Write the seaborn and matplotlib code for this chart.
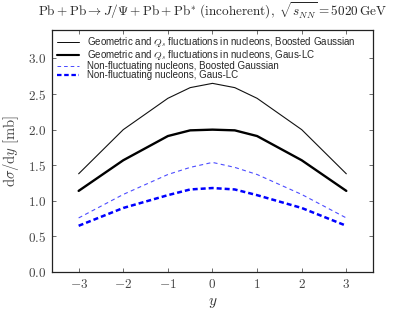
import numpy as np
import pandas as pd
import matplotlib
matplotlib.use('Agg')
import matplotlib.pyplot as plt
import seaborn as sns

# ── Data ──────────────────────────────────────────────────────────────────────
rapidity = [-3, -2, -1, -0.5, 0, 0.5, 1, 2, 3]
fluct_bg = [1.38, 2.00, 2.44, 2.59, 2.65, 2.59, 2.44, 2.00, 1.38]
fluct_lc = [1.14, 1.57, 1.91, 1.99, 2.00, 1.99, 1.91, 1.57, 1.14]
nofl_bg  = [0.76, 1.09, 1.37, 1.47, 1.54, 1.47, 1.37, 1.09, 0.76]
nofl_lc  = [0.65, 0.90, 1.08, 1.16, 1.18, 1.16, 1.08, 0.90, 0.65]

labels = [r'Geometric and $Q_s$ fluctuations in nucleons, Boosted Gaussian',
          r'Geometric and $Q_s$ fluctuations in nucleons, Gaus-LC',
          'Non-fluctuating nucleons, Boosted Gaussian',
          'Non-fluctuating nucleons, Gaus-LC']
x_ticks = [-3, -2, -1, 0, 1, 2, 3]
y_ticks = [0.0, 0.5, 1.0, 1.5, 2.0, 2.5, 3.0]

sns.set_style('ticks')
plt.rcParams['mathtext.fontset'] = 'cm'
plt.rcParams['font.family'] = ['Liberation Sans', 'DejaVu Sans']
plt.rcParams['xtick.direction'] = 'in'
plt.rcParams['ytick.direction'] = 'in'

fig = plt.figure(figsize=(4.15, 3.12), dpi=100)
ax = fig.add_axes([0.125, 0.128, 0.774, 0.776])

# (colour, width, dash pattern in units of line width; None = solid)
styles = [('#111111', 0.8, None),
          ('black', 1.7, None),
          ('#4d4dff', 0.8, (3.6, 3.0)),
          ('blue', 1.8, (2.0, 1.2))]
series = [fluct_bg, fluct_lc, nofl_bg, nofl_lc]

for vals, lab, (col, lw, dash) in zip(series, labels, styles):
    df = pd.DataFrame({'y': rapidity, 'dsdy': vals})
    sns.lineplot(data=df, x='y', y='dsdy', ax=ax, label=lab,
                 color=col, linewidth=lw)
    if dash is not None:
        ax.lines[-1].set_dashes(dash)

ax.set_xlim(-3.6, 3.6)
ax.set_ylim(0, 3.4)
ax.set_xticks(x_ticks)
ax.set_yticks(y_ticks)
ax.set_xticklabels([f'${t}$' if t >= 0 else f'$-{abs(t)}$' for t in x_ticks])
ax.set_yticklabels([f'${t:.1f}$' for t in y_ticks])
ax.tick_params(labelsize=9.5, top=True, right=True, length=3, width=0.6,
               color='#555555', labelcolor='#444444', pad=4)
for sp in ax.spines.values():
    sp.set_visible(True)
    sp.set_linewidth(0.9)
    sp.set_color('#222222')

ax.set_xlabel(r'$y$', fontsize=11, color='#333333', labelpad=4)
ax.set_ylabel(r'$\mathrm{d}\sigma/\mathrm{d}y\ [\mathrm{mb}]$', fontsize=10.5,
              color='#444444')
ax.yaxis.set_label_coords(-0.095, 0.5)
ax.set_title(r'$\mathrm{Pb}+\mathrm{Pb}\rightarrow J/\Psi+\mathrm{Pb}+\mathrm{Pb}^{*}\ \mathrm{(incoherent)},\ \sqrt{s_{NN}}=5020\,\mathrm{GeV}$',
             fontsize=9.5, pad=10)

leg = ax.legend(loc='upper left', frameon=False, fontsize=7.0,
                handlelength=2.2, labelspacing=-0.1, borderaxespad=0.15,
                handletextpad=0.9)
for h in leg.get_lines():
    h.set_linewidth(h.get_linewidth() * 0.9)

fig.savefig('out.png', dpi=100)
